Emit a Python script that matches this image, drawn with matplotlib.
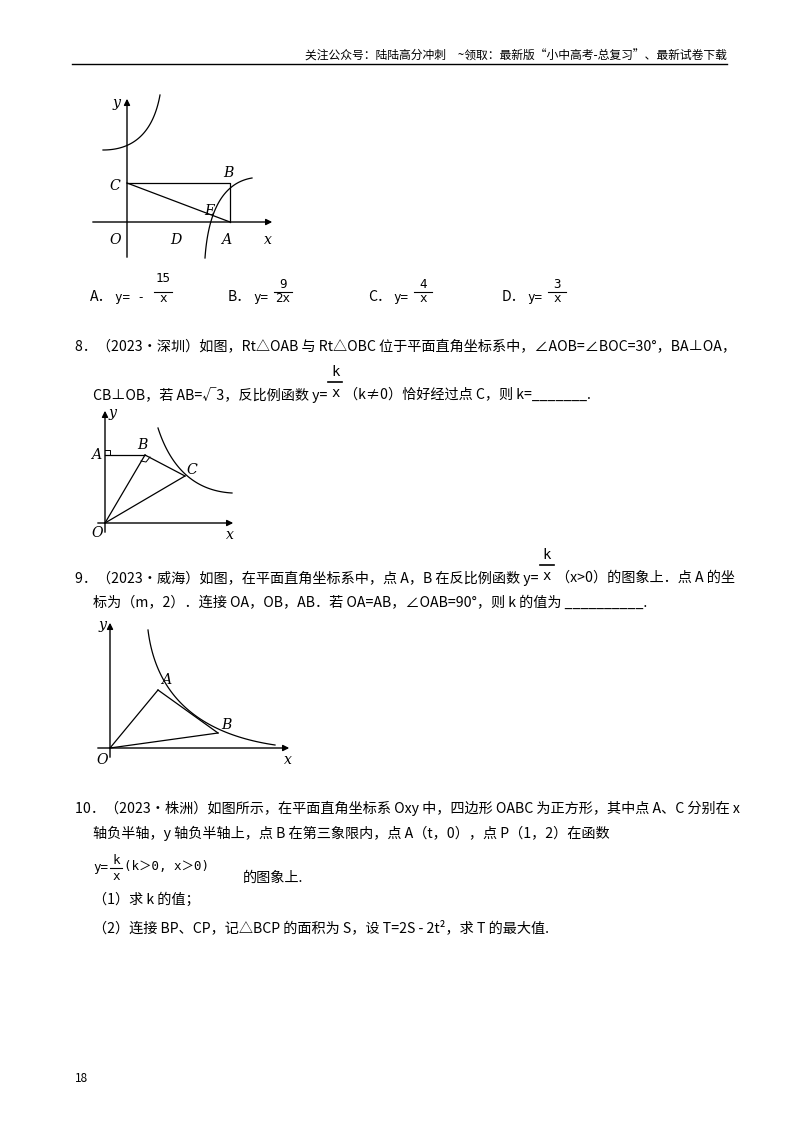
import matplotlib
matplotlib.use("Agg")
import matplotlib.pyplot as plt
import numpy as np

plt.rcParams['font.family'] = ['Noto Sans CJK SC', 'DejaVu Sans']

header = "关注公众号：陆陆高分冲刺　~领取：最新版“小中高考-总复习”、最新试卷下载"
options = ["A．", "B．", "C．", "D．"]
opt_num = ["15", "9", "4", "3"]
opt_den = ["x", "2x", "x", "x"]
opt_pre = ["y= -", "y=", "y=", "y="]
q8_l1 = "8．（2023•深圳）如图，Rt△OAB 与 Rt△OBC 位于平面直角坐标系中，∠AOB=∠BOC=30°，BA⊥OA，"
q8_l2a = "CB⊥OB，若 AB=√3，反比例函数 y="
q8_l2b = "（k≠0）恰好经过点 C，则 k=_______."
q9_l1a = "9．（2023•威海）如图，在平面直角坐标系中，点 A，B 在反比例函数 y="
q9_l1b = "（x>0）的图象上．点 A 的坐"
q9_l2 = "标为（m，2）．连接 OA，OB，AB．若 OA=AB，∠OAB=90°，则 k 的值为 __________."
q10_l1 = "10．（2023•株洲）如图所示，在平面直角坐标系 Oxy 中，四边形 OABC 为正方形，其中点 A、C 分别在 x"
q10_l2 = "轴负半轴，y 轴负半轴上，点 B 在第三象限内，点 A（t，0），点 P（1，2）在函数"
q10_l4 = "的图象上."
q10_l5 = "（1）求 k 的值；"
q10_l6 = "（2）连接 BP、CP，记△BCP 的面积为 S，设 T=2S - 2t²，求 T 的最大值."
page_no = "18"

# diagram geometry (page pixel coordinates)
f1_pts = {"O": (127, 222), "A": (230, 222), "B": (230, 183), "C": (127, 183), "D": (176, 222), "E": (206, 206)}
f2_pts = {"O": (105, 523), "A": (105, 455), "B": (145, 455), "C": (185, 476)}
f3_pts = {"O": (110, 748), "A": (158, 690), "B": (218, 733)}

fig = plt.figure(figsize=(8, 11.32), dpi=100)
ax = fig.add_axes([0, 0, 1, 1])
ax.set_xlim(0, 800); ax.set_ylim(1132, 0); ax.axis('off')
fig.canvas.draw()
renderer = fig.canvas.get_renderer()

fs = 10.2
ax.text(727, 56, header, fontsize=8.5, ha='right', va='center')
ax.plot([72, 727], [64, 64], color='k', lw=1)

def arrow(x0, y0, x1, y1):
    ax.annotate("", xy=(x1, y1), xytext=(x0, y0),
                arrowprops=dict(arrowstyle="-|>", lw=1, color='k', mutation_scale=9))

def it(x, y, s, **kw):
    ax.text(x, y, s, fontsize=fs, style='italic', family='DejaVu Serif', ha='center', va='center', **kw)

def bez(p0, p1, p2, **kw):
    t = np.linspace(0, 1, 60)[:, None]
    p = (1 - t) ** 2 * np.array(p0) + 2 * t * (1 - t) * np.array(p1) + t ** 2 * np.array(p2)
    ax.plot(p[:, 0], p[:, 1], color='k', lw=0.9, **kw)

def right_edge(t):
    bb = t.get_window_extent(renderer)
    return bb.x1  # pixels == data x (800 wide)

def inline_frac(x, y, pre, post):
    t = ax.text(x, y, pre, fontsize=fs, va='center')
    fx = right_edge(t) + 8
    ax.text(fx, y - 23, "k", fontsize=10, ha='center', va='center', family='DejaVu Sans Mono')
    ax.plot([fx - 7, fx + 7], [y - 13, y - 13], 'k', lw=1.2)
    ax.text(fx, y - 2, "x", fontsize=10, ha='center', va='center', family='DejaVu Sans Mono')
    ax.text(fx + 9, y, post, fontsize=fs, va='center')

# ---- figure 1
O = f1_pts
arrow(90, 222, 275, 222); arrow(127, 260, 127, 96)
ax.plot([O["C"][0], O["B"][0], O["A"][0]], [O["C"][1], O["B"][1], O["A"][1]], 'k', lw=0.9)
ax.plot([O["C"][0], O["A"][0]], [O["C"][1], O["A"][1]], 'k', lw=0.9)
bez((205, 258), (210, 185), (252, 178))
bez((103, 150), (150, 150), (160, 95))
it(117, 103, "y"); it(268, 240, "x"); it(115, 240, "O")
it(115, 186, "C"); it(228, 173, "B"); it(209, 211, "E"); it(176, 240, "D"); it(226, 240, "A")
xs = [90, 228, 368, 502]
for i in range(4):
    ax.text(xs[i], 297, options[i], fontsize=fs, va='center')
    px = xs[i] + 25
    ax.text(px, 297, opt_pre[i], fontsize=9, va='center', family='DejaVu Sans Mono')
    fx = px + 12 + 9 * len(opt_pre[i])
    ax.text(fx, 279 if i == 0 else 285, opt_num[i], fontsize=9, ha='center', va='center', family='DejaVu Sans Mono')
    ax.plot([fx - 9, fx + 9], [292, 292], 'k', lw=0.8)
    ax.text(fx, 299, opt_den[i], fontsize=9, ha='center', va='center', family='DejaVu Sans Mono')

# ---- problem 8
ax.text(75, 347, q8_l1, fontsize=fs, va='center')
inline_frac(93, 395, q8_l2a, q8_l2b)
P = f2_pts
arrow(95, 523, 236, 523); arrow(105, 535, 105, 408)
ax.plot([P["A"][0], P["B"][0]], [P["A"][1], P["B"][1]], 'k', lw=0.9)
for a, b in [("O", "B"), ("O", "C"), ("B", "C")]:
    ax.plot([P[a][0], P[b][0]], [P[a][1], P[b][1]], 'k', lw=0.9)
bez((158, 428), (178, 490), (232, 493))
ax.plot([105, 110, 110], [450, 450, 455], 'k', lw=0.7)
ax.plot([141, 146, 150], [461, 462, 457], 'k', lw=0.7)
it(113, 413, "y"); it(230, 535, "x"); it(97, 533, "O")
it(96, 455, "A"); it(142, 445, "B"); it(192, 470, "C")

# ---- problem 9
inline_frac(75, 578, q9_l1a, q9_l1b)
ax.text(93, 603, q9_l2, fontsize=fs, va='center')
Q = f3_pts
arrow(95, 748, 292, 748); arrow(110, 760, 110, 620)
for a, b in [("O", "A"), ("O", "B"), ("A", "B")]:
    ax.plot([Q[a][0], Q[b][0]], [Q[a][1], Q[b][1]], 'k', lw=0.9)
bez((148, 630), (160, 728), (275, 745))
it(103, 625, "y"); it(288, 760, "x"); it(102, 760, "O")
it(166, 680, "A"); it(226, 725, "B")

# ---- problem 10
ax.text(75, 808, q10_l1, fontsize=fs, va='center')
ax.text(93, 833, q10_l2, fontsize=fs, va='center')
ax.text(93, 868, "y=", fontsize=9, va='center', family='DejaVu Sans Mono')
ax.text(116, 860, "k", fontsize=9, ha='center', va='center', family='DejaVu Sans Mono')
ax.plot([110, 122], [868, 868], 'k', lw=0.8)
ax.text(116, 877, "x", fontsize=9, ha='center', va='center', family='DejaVu Sans Mono')
ax.text(124, 866, "(k＞0, x＞0)", fontsize=9, va='center', family=['DejaVu Sans Mono', 'Noto Sans CJK SC'])
ax.text(243, 878, q10_l4, fontsize=fs, va='center')
ax.text(93, 900, q10_l5, fontsize=fs, va='center')
ax.text(93, 928, q10_l6, fontsize=fs, va='center')
ax.text(75, 1078, page_no, fontsize=8.5, va='center')

fig.savefig("out.png", dpi=100, facecolor='white')
